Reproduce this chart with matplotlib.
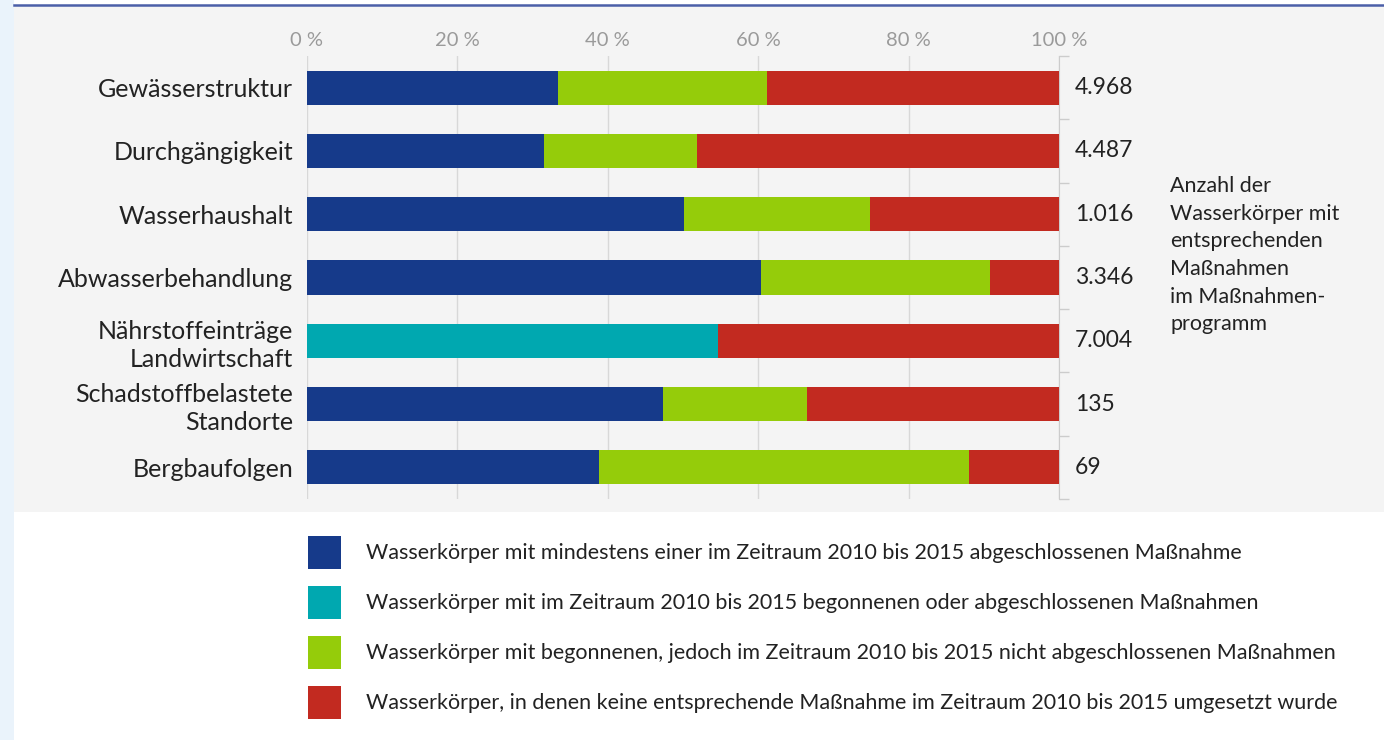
import matplotlib
matplotlib.use("Agg")
import matplotlib.pyplot as plt
from matplotlib.patches import Patch, Rectangle
from matplotlib.lines import Line2D
from matplotlib.ticker import FixedLocator
import numpy as np

plt.rcParams['font.family'] = ['Lato', 'DejaVu Sans']

categories = ["Gewässerstruktur", "Durchgängigkeit", "Wasserhaushalt",
              "Abwasserbehandlung", "Nährstoffeinträge\nLandwirtschaft",
              "Schadstoffbelastete\nStandorte", "Bergbaufolgen"]
abgeschlossen = [33.4, 31.5, 50.1, 60.4, 0.0, 47.3, 38.8]
begonnen_oder_abg = [0.0, 0.0, 0.0, 0.0, 54.7, 0.0, 0.0]
begonnen_nicht_abg = [27.8, 20.4, 24.8, 30.4, 0.0, 19.2, 49.2]
keine = [38.8, 48.1, 25.1, 9.2, 45.3, 33.5, 12.0]
counts = ["4.968", "4.487", "1.016", "3.346", "7.004", "135", "69"]
xticks = [0, 20, 40, 60, 80, 100]
xticklabels = ["0 %", "20 %", "40 %", "60 %", "80 %", "100 %"]
series_labels = [
    "Wasserkörper mit mindestens einer im Zeitraum 2010 bis 2015 abgeschlossenen Maßnahme",
    "Wasserkörper mit im Zeitraum 2010 bis 2015 begonnenen oder abgeschlossenen Maßnahmen",
    "Wasserkörper mit begonnenen, jedoch im Zeitraum 2010 bis 2015 nicht abgeschlossenen Maßnahmen",
    "Wasserkörper, in denen keine entsprechende Maßnahme im Zeitraum 2010 bis 2015 umgesetzt wurde",
]
right_note = "Anzahl der\nWasserkörper mit\nentsprechenden\nMaßnahmen\nim Maßnahmen-\nprogramm"

colors = ["#163a8a", "#00a8b0", "#95cc0a", "#c22a20"]
text_color = "#222222"
panel_color = "#f4f4f4"

W, H = 1384, 740
fig = plt.figure(figsize=(W / 100, H / 100), dpi=100)
fig.patch.set_facecolor("white")

# background decorations
fig.patches.append(Rectangle((0, 0), 14 / W, 1, transform=fig.transFigure,
                             facecolor="#eaf3fb", edgecolor="none", zorder=-5))
fig.patches.append(Rectangle((14 / W, 1 - 512 / H), 1 - 14 / W, (512 - 6) / H,
                             transform=fig.transFigure, facecolor=panel_color,
                             edgecolor="none", zorder=-5))
fig.lines.append(Line2D([14 / W, 1], [1 - 5 / H, 1 - 5 / H], transform=fig.transFigure,
                        color="#4b5fa8", lw=1.8, zorder=-4))

ax = fig.add_axes([307 / W, 1 - 499 / H, 752 / W, 443 / H])
ax.set_facecolor("none")
ax.set_zorder(5)

y = np.arange(len(categories))
series = [abgeschlossen, begonnen_oder_abg, begonnen_nicht_abg, keine]
left = np.zeros(len(categories))
for vals, c in zip(series, colors):
    v = np.array(vals)
    ax.barh(y, v, left=left, height=0.54, color=c, edgecolor="none", zorder=3)
    left += v

ax.set_xlim(0, 100)
ax.set_ylim(len(categories) - 0.5, -0.5)
ax.xaxis.tick_top()
ax.set_xticks(xticks)
ax.set_xticklabels(xticklabels)
ax.tick_params(axis="x", length=0, pad=5, labelsize=14.5, labelcolor="#9a9a9a")
ax.grid(axis="x", color="#d8d8d8", lw=1, zorder=0)

ax.set_yticks(y)
ax.set_yticklabels(categories, fontsize=18, color=text_color, linespacing=1.28)
ax.tick_params(axis="y", which="major", length=0, pad=10)
ax.yaxis.set_minor_locator(FixedLocator(np.arange(-0.5, len(categories), 1.0)))
ax.tick_params(axis="y", which="minor", left=False, right=True, length=7,
               color="#cccccc", width=1)

for s in ["top", "left", "bottom"]:
    ax.spines[s].set_visible(False)
ax.spines["right"].set_color("#cccccc")

for i, c in enumerate(counts):
    ax.annotate(c, xy=(1, i), xycoords=("axes fraction", "data"),
                xytext=(16, 0), textcoords="offset pixels",
                ha="left", va="center", fontsize=16.5, color=text_color)

fig.text(1170 / W, 1 - 176 / H, right_note, ha="left", va="top", fontsize=15.5,
         color=text_color, linespacing=1.48)

handles = [Patch(facecolor=c, edgecolor="none") for c in colors]
leg = fig.legend(handles, series_labels, loc="upper left",
                 bbox_to_anchor=(299 / W, 1 - 527 / H), frameon=False,
                 fontsize=15.5, handlelength=1.55, handleheight=2.0,
                 handletextpad=1.18, labelspacing=0.78, borderaxespad=0, borderpad=0.4)
for t in leg.get_texts():
    t.set_color(text_color)

fig.savefig("out.png", dpi=100, facecolor="white")
